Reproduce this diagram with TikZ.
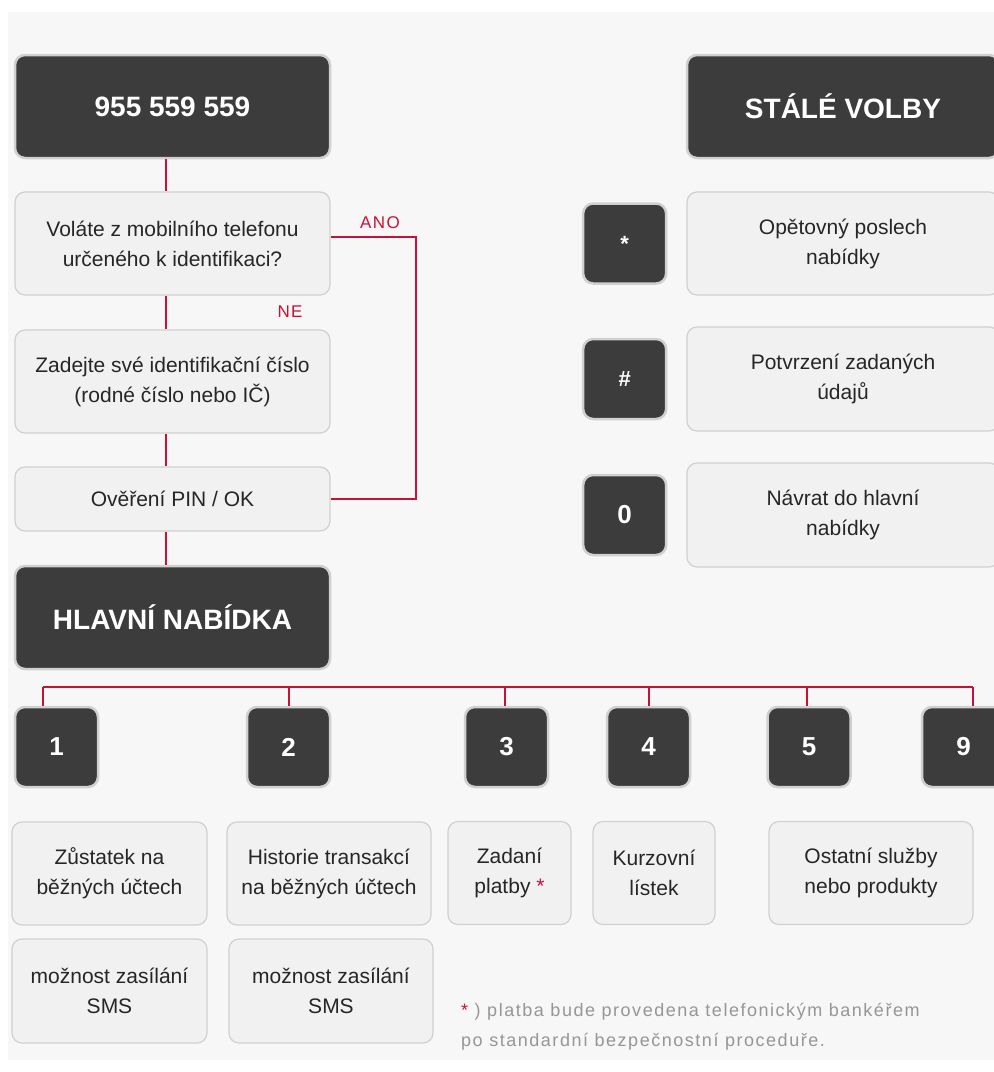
\documentclass[tikz,border=0pt]{standalone}
\usepackage{fontspec}
\setmainfont{Liberation Sans}
\usepackage{tikz}
\usetikzlibrary{positioning}
\definecolor{bgpanel}{RGB}{247,247,247}
\definecolor{boxdark}{RGB}{60,60,60}
\definecolor{boxlight}{RGB}{241,241,241}
\definecolor{rim}{RGB}{208,208,208}
\definecolor{wirered}{RGB}{204,16,52}
\definecolor{notegray}{RGB}{150,150,150}

\begin{document}
\begin{tikzpicture}[x=1pt,y=-1pt,
		darkbox/.style={draw=rim, line width=2.5pt, fill=boxdark, rounded corners=10pt, text=white,
			font=\fontsize{28}{30}\selectfont\bfseries, inner sep=0pt, minimum width=315pt, minimum height=103pt},
		keybox/.style={darkbox, minimum width=83pt, minimum height=80pt, font=\fontsize{26}{30}\selectfont\bfseries},
		infobox/.style={draw=rim, line width=1.2pt, fill=boxlight, rounded corners=10pt, text=black!85, align=center,
			font=\fontsize{21}{30}\selectfont, inner sep=0pt, minimum width=315pt, minimum height=103pt},
		wire/.style={draw=wirered, line width=1.6pt},
		tag/.style={text=wirered, font=\fontsize{17}{20}\selectfont\addfontfeature{LetterSpace=8}}
		]
		\useasboundingbox (0,0) rectangle (994,1072);
		\fill[bgpanel] (8,12) rectangle (994,1060);
		% left column: call flow
		\node[darkbox] (num) at (172.5,106.5) {955 559 559};
		\node[infobox] (ques) at (172.5,243.5) {Voláte z mobilního telefonu\\určeného k identifikaci?};
		\node[infobox] (ident) at (172.5,381.5) {Zadejte své identifikační číslo\\(rodné číslo nebo IČ)};
		\node[infobox, minimum height=64pt] (pin) at (172.5,499) {Ověření PIN / OK};
		\node[darkbox] (menu) at (172.5,617.5) {HLAVNÍ NABÍDKA};
		\coordinate (spine) at (166,0);
		\foreach \a/\b in {num/ques, ques/ident, ident/pin, pin/menu}
			\draw[wire] (\a.south -| spine) -- (\b.north -| spine);
		\coordinate (ano) at (416,237);
		\draw[wire] (ques.east |- ano) -- (ano) |- (pin.east);
		\node[tag] (yes) at (380,223) {ANO};
		\node[tag] (no) at (290,312) {NE};
		% right column: fixed keys
		\node[darkbox, minimum width=312pt] (fixed) at (843,106.5) {STÁLÉ VOLBY};
		\node[infobox, minimum width=312pt] (again) at (843,243.5) {Opětovný poslech\\nabídky};
		\node[infobox, minimum width=312pt, minimum height=104pt] (confirm) at (843,379) {Potvrzení zadaných\\údajů};
		\node[infobox, minimum width=312pt, minimum height=104pt] (back) at (843,515) {Návrat do hlavní\\nabídky};
		\node[keybox, font=\fontsize{22}{24}\selectfont\bfseries, left=19pt of again] (kstar) {*};
		\node[keybox, font=\fontsize{22}{24}\selectfont\bfseries, left=19pt of confirm] (khash) {\#};
		\node[keybox, left=19pt of back] (kzero) {0};
		% main menu keys
		\foreach \n/\x/\d in {1/56.5/43, 2/288.5/289, 3/506.5/505, 4/648.5/649, 5/809/807, 9/963.5/973}{
			\node[keybox] (k\n) at (\x,747) {\n};
			\coordinate (b\n) at (\d,687);
			\draw[wire] (b\n) -- (b\n |- k\n.north);
		}
		\draw[wire] (b1) -- (b9);
		\node[infobox, minimum width=195pt] (d1) at (109.5,873.5) {Zůstatek na\\běžných účtech};
		\node[infobox, minimum width=204pt] (d2) at (329,873.5) {Historie transakcí\\na běžných účtech};
		\node[infobox, minimum width=123pt] (d3) at (509.5,873) {Zadaní\\platby {\color{wirered}*}};
		\node[infobox, minimum width=122pt] (d4) at (654,873) {Kurzovní\\lístek};
		\node[infobox, minimum width=204pt] (d5) at (871,873) {Ostatní služby\\nebo produkty};
		\node[infobox, minimum width=195pt, minimum height=104pt] (s1) at (109.5,991) {možnost zasílání\\SMS};
		\node[infobox, minimum width=204pt, minimum height=104pt] (s2) at (331,991) {možnost zasílání\\SMS};
		\node[anchor=west, align=left, inner sep=0pt, text=notegray,
			font=\fontsize{18}{30}\selectfont\addfontfeature{LetterSpace=8.5}] (note) at (461,1027)
			{{\color{wirered}*} ) platba bude provedena telefonickým bankéřem\\po standardní bezpečnostní proceduře.};
\end{tikzpicture}
\end{document}
